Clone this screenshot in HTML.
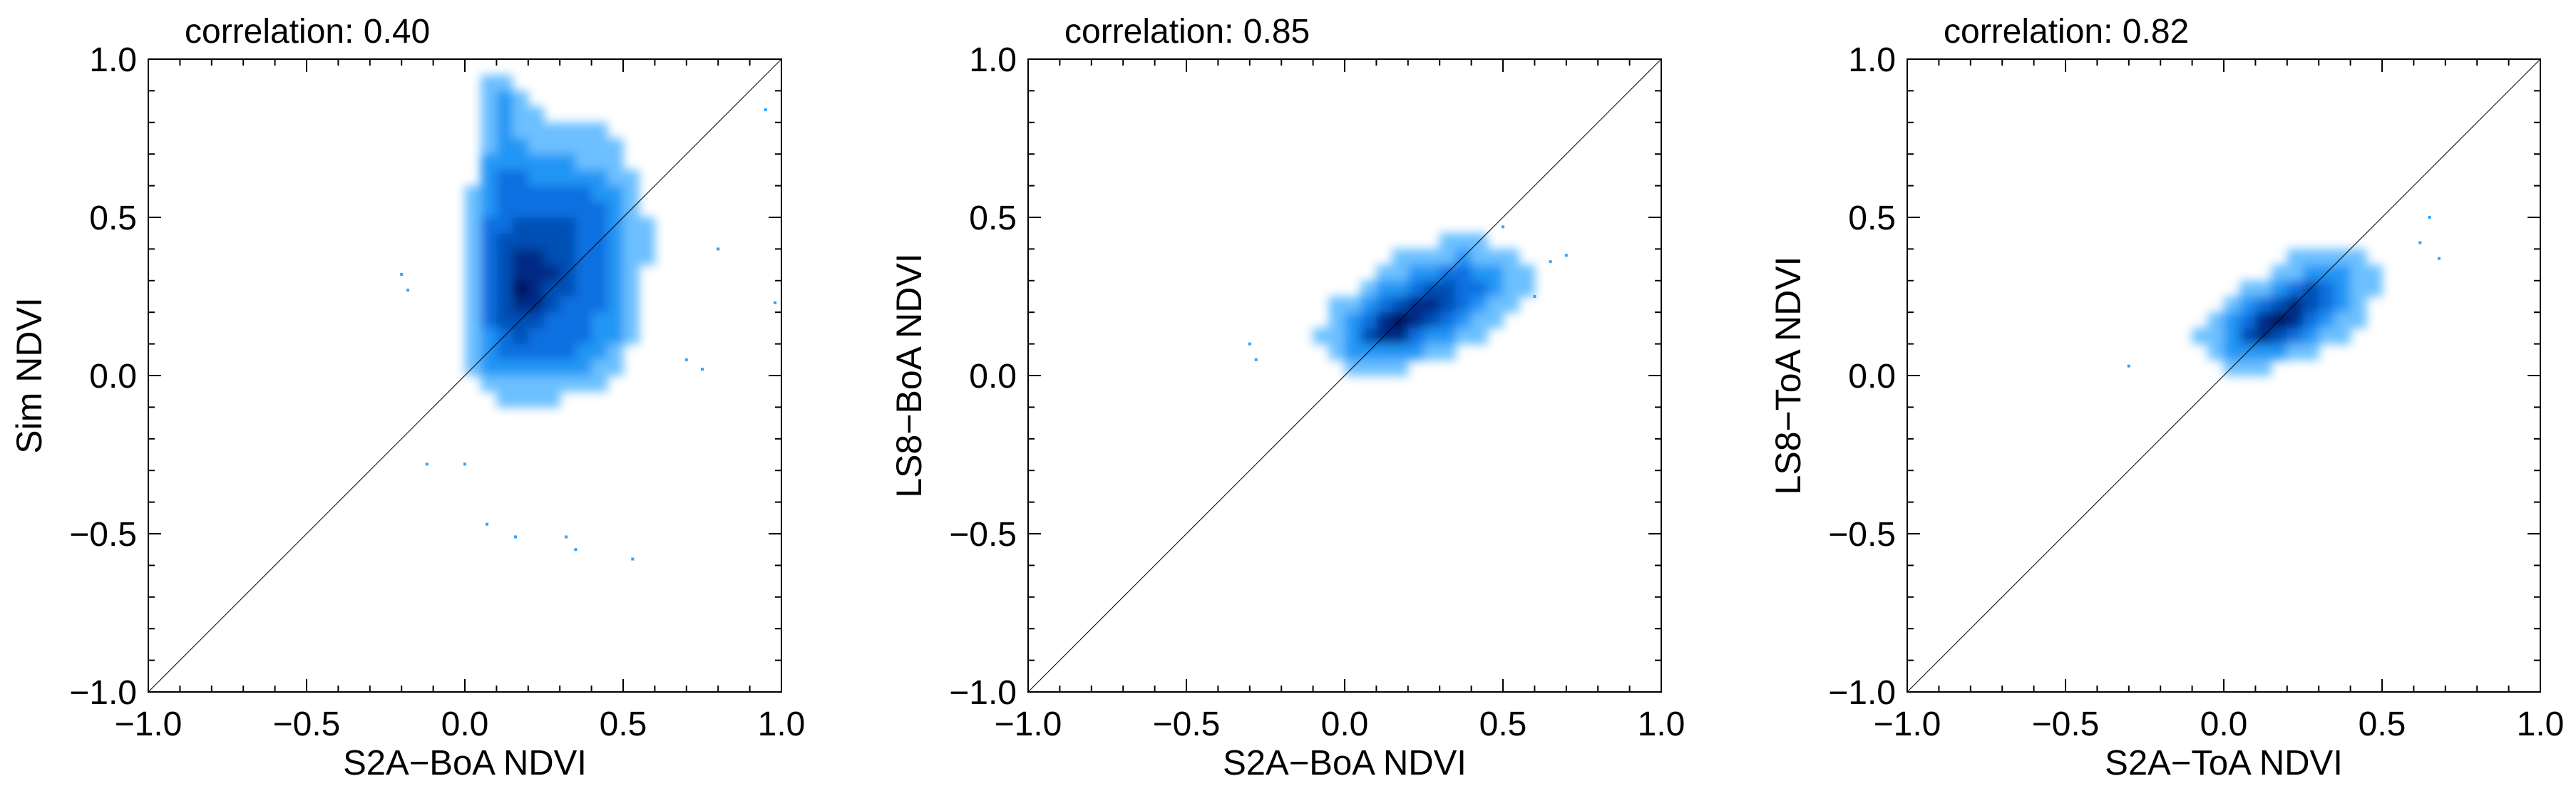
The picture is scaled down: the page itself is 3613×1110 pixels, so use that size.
<!DOCTYPE html>
<html><head><meta charset="utf-8"><style>
html,body{margin:0;padding:0;background:#fff;}
svg{display:block;}
text{font-family:"Liberation Sans",sans-serif;fill:#000;}
</style></head><body>
<svg id="fig" width="3613" height="1110" viewBox="0 0 3613 1110" xmlns="http://www.w3.org/2000/svg">
<defs><filter id="soft" x="-10%" y="-10%" width="120%" height="120%"><feGaussianBlur stdDeviation="7"/></filter></defs>
</svg>
<script>
// ---- data ----
const titles = ["correlation: 0.40", "correlation: 0.85", "correlation: 0.82"];
const xTitles = ["S2A\u2212BoA NDVI", "S2A\u2212BoA NDVI", "S2A\u2212ToA NDVI"];
const yTitles = ["Sim NDVI", "LS8\u2212BoA NDVI", "LS8\u2212ToA NDVI"];
const tickValues = [-1.0, -0.5, 0.0, 0.5, 1.0];
const tickLabels = ["\u22121.0", "\u22120.5", "0.0", "0.5", "1.0"];
const binSize = 0.05;
// panel 1 density bins
const p1Cols = [-0.1,-0.05,0,0.05,0.1,0.15,0.2,0.25,0.3,0.35,0.4,0.45,0.5,0.55,0.6,0.65,0.7];
const p1Rows = [0.9,0.85,0.8,0.75,0.7,0.65,0.6,0.55,0.5,0.45,0.4,0.35,0.3,0.25,0.2,0.15,0.1,0.05,0,-0.05,-0.1];
const p1Density = [
[0,0,0,1,1,0,0,0,0,0,0,0,0,0,0,0,0],
[0,0,0,1,2,1,0,0,0,0,0,0,0,0,0,0,0],
[0,0,0,1,2,1,1,0,0,0,0,0,0,0,0,0,0],
[0,0,0,1,2,1,1,1,1,1,1,0,0,0,0,0,0],
[0,0,0,1,2,2,1,1,1,1,1,1,0,0,0,0,0],
[0,0,0,2,2,2,2,2,2,1,1,1,0,0,0,0,0],
[0,0,0,2,3,3,2,2,2,2,2,1,1,0,0,0,0],
[0,0,1,2,3,3,3,3,3,3,2,2,1,0,0,0,0],
[0,0,1,2,3,3,3,3,3,3,3,2,1,0,0,0,0],
[0,0,1,3,3,4,4,4,4,3,3,2,1,1,0,0,0],
[0,0,1,3,4,4,4,4,4,3,3,2,1,1,0,0,0],
[0,0,1,3,4,5,5,4,4,3,3,2,1,1,0,0,0],
[0,0,1,3,4,5,5,5,4,3,3,2,1,0,0,0,0],
[0,0,1,3,4,6,5,4,4,3,3,2,1,0,0,0,0],
[0,0,1,3,4,5,5,4,3,3,3,2,1,0,0,0,0],
[0,0,1,3,4,4,4,3,3,3,2,2,1,0,0,0,0],
[0,0,1,2,3,4,3,3,3,3,2,2,1,0,0,0,0],
[0,0,1,2,3,3,3,3,3,2,2,1,0,0,0,0,0],
[0,0,1,2,2,2,2,2,2,2,1,1,0,0,0,0,0],
[0,0,0,1,1,1,1,1,1,1,1,0,0,0,0,0,0],
[0,0,0,0,1,1,1,1,0,0,0,0,0,0,0,0,0]];
// panels 2 and 3 density bins
const p23Cols = [-0.2,-0.15,-0.1,-0.05,0,0.05,0.1,0.15,0.2,0.25,0.3,0.35,0.4,0.45,0.5,0.55,0.6,0.65,0.7,0.75];
const p23Rows = [0.4,0.35,0.3,0.25,0.2,0.15,0.1,0.05,0];
const p2Density = [
[0,0,0,0,0,0,0,0,0,0,1,1,1,0,0,0,0,0,0,0],
[0,0,0,0,0,0,0,1,1,1,1,2,1,1,1,0,0,0,0,0],
[0,0,0,0,0,0,1,1,2,2,3,3,2,2,1,1,0,0,0,0],
[0,0,0,0,0,1,2,2,3,4,4,3,3,2,1,1,0,0,0,0],
[0,0,0,1,1,2,3,4,5,5,4,3,2,1,1,0,0,0,0,0],
[0,0,0,1,2,3,5,6,5,4,3,2,1,1,0,0,0,0,0,0],
[0,0,1,1,2,4,5,5,3,2,2,1,1,0,0,0,0,0,0,0],
[0,0,0,1,2,2,2,2,2,1,1,0,0,0,0,0,0,0,0,0],
[0,0,0,0,1,1,1,1,0,0,0,0,0,0,0,0,0,0,0,0]];
const p3Density = [
[0,0,0,0,0,0,0,0,0,0,0,0,0,0,0,0,0,0,0,0],
[0,0,0,0,0,0,0,0,1,1,1,1,1,0,0,0,0,0,0,0],
[0,0,0,0,0,0,0,1,1,2,2,2,1,1,0,0,0,0,0,0],
[0,0,0,0,0,1,1,2,3,4,3,2,1,1,0,0,0,0,0,0],
[0,0,0,0,1,2,3,4,5,4,3,2,1,0,0,0,0,0,0,0],
[0,0,0,1,2,3,5,6,5,3,2,1,1,0,0,0,0,0,0,0],
[0,0,1,1,2,4,5,4,3,2,1,1,0,0,0,0,0,0,0,0],
[0,0,0,1,2,2,2,2,1,1,0,0,0,0,0,0,0,0,0,0],
[0,0,0,0,1,1,1,0,0,0,0,0,0,0,0,0,0,0,0,0]];
// outlier points [x,y]
const p1OutX = [-0.2,-0.18,-0.12,0.0,0.07,0.16,0.32,0.35,0.53,0.7,0.75,0.8,0.98,0.95];
const p1OutY = [0.32,0.27,-0.28,-0.28,-0.47,-0.51,-0.51,-0.55,-0.58,0.05,0.02,0.4,0.23,0.84];
const p2OutX = [-0.3,-0.28,0.7,0.65,0.6,0.5];
const p2OutY = [0.1,0.05,0.38,0.36,0.25,0.47];
const p3OutX = [-0.3,0.62,0.65,0.68];
const p3OutY = [0.03,0.42,0.5,0.37];

const panels = [
 {cols:p1Cols, rows:p1Rows, dens:p1Density, ox:p1OutX, oy:p1OutY},
 {cols:p23Cols, rows:p23Rows, dens:p2Density, ox:p2OutX, oy:p2OutY},
 {cols:p23Cols, rows:p23Rows, dens:p3Density, ox:p3OutX, oy:p3OutY}
];
const lefts = [208, 1442, 2675];
const TOP = 83, SIZE = 888;
const colors = ["none","#6cc0ff","#2196f5","#0a6fe0","#0050b5","#002a85","#000c58"];
const NS = "http://www.w3.org/2000/svg";
const svg = document.getElementById('fig');
function mk(tag, attrs, parent){
  const e = document.createElementNS(NS, tag);
  for (const k in attrs) e.setAttribute(k, attrs[k]);
  (parent||svg).appendChild(e); return e;
}
panels.forEach((p, i) => {
  const L = lefts[i];
  const sx = v => L + (v + 1) / 2 * SIZE;
  const sy = v => TOP + SIZE - (v + 1) / 2 * SIZE;
  const g = mk('g', {});
  
  
  const dg = mk('g', {filter:'url(#soft)'}, g);
  
  
  p.dens.forEach((row, r) => row.forEach((lv, c) => {
    if (!lv) return;
    const x0 = sx(p.cols[c]), x1 = sx(p.cols[c] + binSize);
    const y1 = sy(p.rows[r]), y0 = sy(p.rows[r] + binSize);
    const rc = mk('rect', {x:x0, y:y0, width:x1-x0+0.5, height:y1-y0+0.5, fill:colors[lv]}, dg);
    
    
  }));
  p.ox.forEach((x, k) => {
    const pt = mk('rect', {x:sx(x)-2, y:sy(p.oy[k])-2, width:4, height:4, fill:"#2ea4ff"}, g);
    
    
  });
  const diag = mk('line', {x1:sx(-1), y1:sy(-1), x2:sx(1), y2:sy(1), stroke:"#000", 'stroke-width':1}, g);
  
  
  const frame = mk('rect', {x:L, y:TOP, width:SIZE, height:SIZE, fill:"none", stroke:"#000", 'stroke-width':2}, g);
  
  
  for (let k = 0; k <= 20; k++) {
    const v = -1 + k * 0.1;
    const len = (k % 5 === 0) ? 18 : 9;
    const X = sx(v), Y = sy(v);
    [[X,TOP+SIZE,X,TOP+SIZE-len],[X,TOP,X,TOP+len],[L,Y,L+len,Y],[L+SIZE,Y,L+SIZE-len,Y]].forEach(a => {
      const t = mk('line', {x1:a[0], y1:a[1], x2:a[2], y2:a[3], stroke:"#000", 'stroke-width':2}, g);
      
      
    });
  }
  tickValues.forEach((v, k) => {
    const tx = mk('text', {x:sx(v), y:1032, 'font-size':48, 'text-anchor':'middle'}, g);
    tx.textContent = tickLabels[k];
    
    
    const ty = mk('text', {x:L-16, y:sy(v)+17, 'font-size':48, 'text-anchor':'end'}, g);
    ty.textContent = tickLabels[k];
    
    
  });
  const tt = mk('text', {x:L+51, y:60, 'font-size':48}, g);
  tt.textContent = titles[i];
  
  
  const xl = mk('text', {x:L+SIZE/2, y:1087, 'font-size':49, 'text-anchor':'middle'}, g);
  xl.textContent = xTitles[i];
  
  
  const cy = TOP + SIZE/2;
  const yl = mk('text', {x:L-150, y:cy, 'font-size':50, 'text-anchor':'middle', transform:`rotate(-90 ${L-150} ${cy})`}, g);
  yl.textContent = yTitles[i];
  
  
});
</script>
</body></html>
